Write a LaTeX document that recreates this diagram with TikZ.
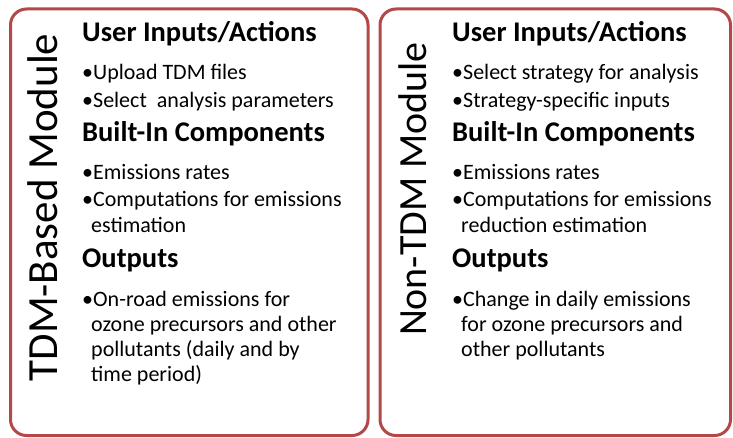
\documentclass[tikz,border=0pt]{standalone}
\usepackage{fontspec}
\setmainfont{Carlito}
\definecolor{boxred}{RGB}{178,72,72}
\begin{document}
\begin{tikzpicture}[x=1pt,y=-1pt,
  panel/.style={draw=boxred,line width=3pt,rounded corners=16pt},
  vlabel/.style={rotate=90,anchor=base,inner sep=0pt},
  head/.style={anchor=base west,font=\fontsize{28.5}{28.5}\selectfont\bfseries,inner sep=0pt},
  item/.style={anchor=base west,font=\fontsize{22}{22}\selectfont,inner sep=0pt}]
\useasboundingbox (0,0) rectangle (733,438);
\draw[panel] (10.5,9) rectangle (368,435.5);
\draw[panel] (380,9) rectangle (730.5,435.5);
\node[vlabel,font=\fontsize{43}{43}\selectfont] (l1) at (57,207.5) {TDM-Based Module};
\node[vlabel,font=\fontsize{40}{40}\selectfont] (l2) at (426,189) {Non-TDM Module};
% left
\node[head] (a1) at (82,42) {User Inputs/Actions};
\node[item] (a2) at (82,80) {•Upload TDM files};
\node[item] (a3) at (82,108) {•Select\ \ analysis parameters};
\node[head] (a4) at (82,142) {Built-In Components};
\node[item] (a5) at (82,180) {•Emissions rates};
\node[item] (a6) at (82,207) {•Computations for emissions};
\node[item] (a7) at (91,233) {estimation};
\node[head] (a8) at (82,267) {Outputs};
\node[item] (a9) at (82,306) {•On-road emissions for};
\node[item] (a10) at (91,331) {ozone precursors and other};
\node[item] (a11) at (91,356) {pollutants (daily and by};
\node[item] (a12) at (91,381) {time period)};
% right
\node[head] (b1) at (452,42) {User Inputs/Actions};
\node[item] (b2) at (452,80) {•Select strategy for analysis};
\node[item] (b3) at (452,108) {•Strategy-specific inputs};
\node[head] (b4) at (452,142) {Built-In Components};
\node[item] (b5) at (452,180) {•Emissions rates};
\node[item] (b6) at (452,207) {•Computations for emissions};
\node[item] (b7) at (461,233) {reduction estimation};
\node[head] (b8) at (452,267) {Outputs};
\node[item] (b9) at (452,306) {•Change in daily emissions};
\node[item] (b10) at (461,331) {for ozone precursors and};
\node[item] (b11) at (461,356) {other pollutants};
\end{tikzpicture}
\end{document}
